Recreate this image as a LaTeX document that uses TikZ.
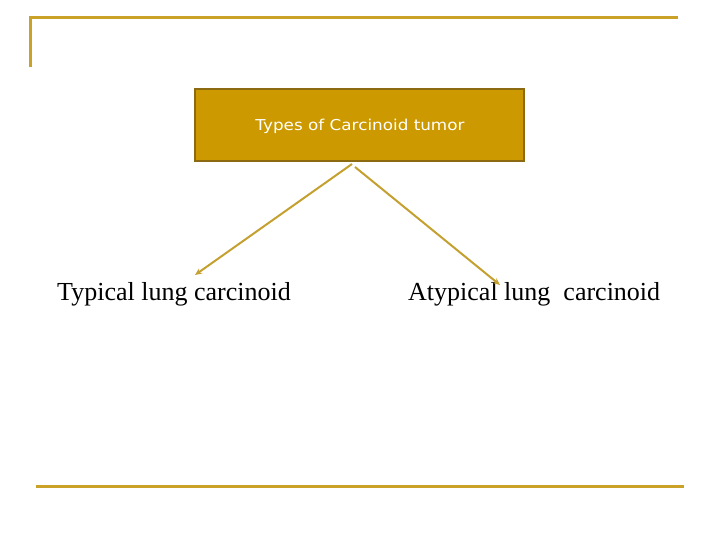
\documentclass[tikz,border=0pt]{standalone}
\usepackage{fontspec}
\setmainfont{Liberation Serif}
\newfontfamily\boxfont{DejaVu Sans}
\usetikzlibrary{arrows.meta}
\definecolor{gold}{HTML}{CC9900}
\definecolor{goldline}{HTML}{C9A227}
\definecolor{boxedge}{HTML}{8C6A12}
\definecolor{arrowcol}{HTML}{C4A030}
\begin{document}
\begin{tikzpicture}[x=1pt,y=-1pt,
  frame/.style={draw=goldline,line width=3pt},
  headbox/.style={draw=boxedge,fill=gold,line width=2.5pt,minimum width=329pt,minimum height=72pt,inner sep=0pt,text=white},
  headtext/.style={inner sep=0pt,text=white,font=\boxfont\fontsize{15}{18}\selectfont},
  leaf/.style={inner sep=0pt,anchor=base west,font=\fontsize{26}{30}\selectfont},
  link/.style={draw=arrowcol,line width=2pt,-{Stealth[length=7pt,width=6pt]}}]
\useasboundingbox (0,0) rectangle (720,540);
\draw[frame] (30,67) -- (30,18) -- (678,18);
\draw[frame] (36,486) -- (684,486);
\node[headbox] (head) at (359.5,125) {};
\node[headtext,xscale=1.12] (headlabel) at (360,126) {Types of Carcinoid tumor};
\node[leaf] (typ) at (57,300) {Typical lung carcinoid};
\node[leaf] (atyp) at (408,300) {Atypical lung\ \ carcinoid};
\coordinate (s1) at (352,164);
\coordinate (s2) at (355,167);
\coordinate (e1) at (195,275);
\coordinate (e2) at (500,285);
\draw[link] (s1) -- (e1);
\draw[link] (s2) -- (e2);
\end{tikzpicture}
\end{document}
